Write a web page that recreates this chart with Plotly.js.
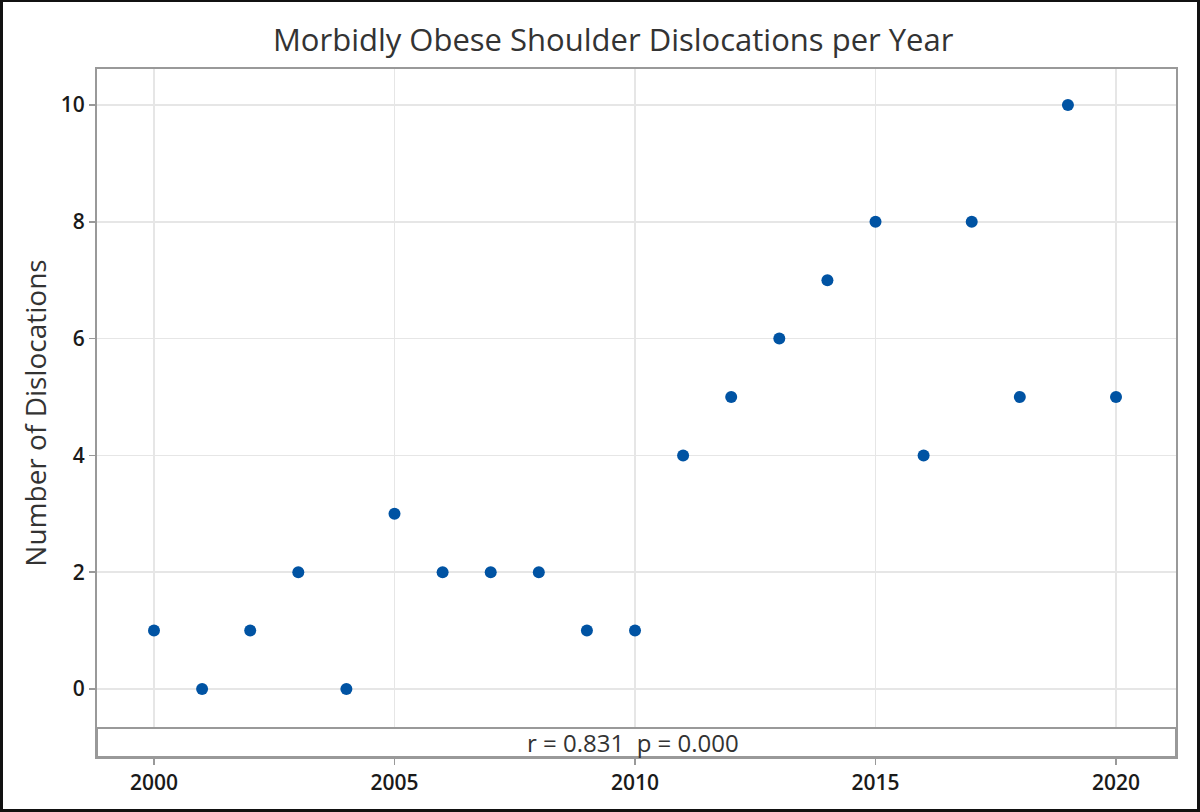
<!DOCTYPE html>
<html><head><meta charset="utf-8">
<script src="https://cdn.plot.ly/plotly-3.0.1.min.js"></script>
<style>
html,body{margin:0;padding:0;background:#fff;}
#wrap{position:relative;width:1200px;height:812px;}
#chart{width:1200px;height:812px;}
#frame{position:absolute;left:0;top:0;width:1200px;height:812px;box-sizing:border-box;border:3px solid #111;border-top-width:2px;pointer-events:none;}
</style></head>
<body>
<div id="wrap"><div id="chart"></div><div id="frame"></div></div>
<script>
const years = [2000,2001,2002,2003,2004,2005,2006,2007,2008,2009,2010,2011,2012,2013,2014,2015,2016,2017,2018,2019,2020];
const dislocations = [1,0,1,2,0,3,2,2,2,1,1,4,5,6,7,8,4,8,5,10,5];
const xTicks = [2000,2005,2010,2015,2020];
const yTicks = [0,2,4,6,8,10];
const statsText = "r = 0.831  p = 0.000";

const fontFam = '"Open Sans", "Noto Sans", sans-serif';

Plotly.newPlot('chart', [{
  x: years, y: dislocations, type: 'scatter', mode: 'markers',
  marker: {color: '#0053A3', size: 12},
  hoverinfo: 'x+y'
}], {
  width: 1200, height: 812,
  margin: {l: 97, r: 24, t: 69, b: 55},
  paper_bgcolor: '#fff', plot_bgcolor: '#fff',
  showlegend: false,
  title: {text: 'Morbidly Obese Shoulder Dislocations per Year', x: 0.511, xanchor: 'center', y: 0.95, yanchor: 'middle',
          font: {family: fontFam, size: 31, color: '#333'}},
  xaxis: {range: [1998.815, 2021.247], tickvals: xTicks, ticktext: xTicks.map(String),
          showgrid: true, gridcolor: '#e6e6e6', gridwidth: 1.5, zeroline: false,
          showline: true, linecolor: '#999', linewidth: 2, mirror: true,
          ticks: 'outside', ticklen: 6, tickcolor: '#999', tickwidth: 1.5,
          tickfont: {family: fontFam, size: 21, color: '#1a1a1a', weight: 600}},
  yaxis: {range: [-1.164, 10.616], tickvals: yTicks, ticktext: yTicks.map(String),
          showgrid: true, gridcolor: '#e6e6e6', gridwidth: 1.5, zeroline: false,
          showline: true, linecolor: '#999', linewidth: 2, mirror: true,
          ticks: 'outside', ticklen: 6, tickcolor: '#999', tickwidth: 1.5,
          tickfont: {family: fontFam, size: 21, color: '#1a1a1a', weight: 600},
          title: {text: 'Number of Dislocations', standoff: 6, font: {family: fontFam, size: 28, color: '#333'}}},
  shapes: [{type: 'rect', xref: 'paper', yref: 'paper', x0: 0, x1: 1, y0: 0, y1: 0.0422,
            fillcolor: '#fff', line: {color: '#999', width: 2}, layer: 'above'}],
  annotations: [{text: statsText, xref: 'paper', yref: 'paper', x: 0.497, y: 0.0211, xanchor: 'center', yanchor: 'middle',
                 showarrow: false, font: {family: fontFam, size: 24, color: '#333'}}]
}, {displayModeBar: false, staticPlot: true});
</script>
</body></html>
